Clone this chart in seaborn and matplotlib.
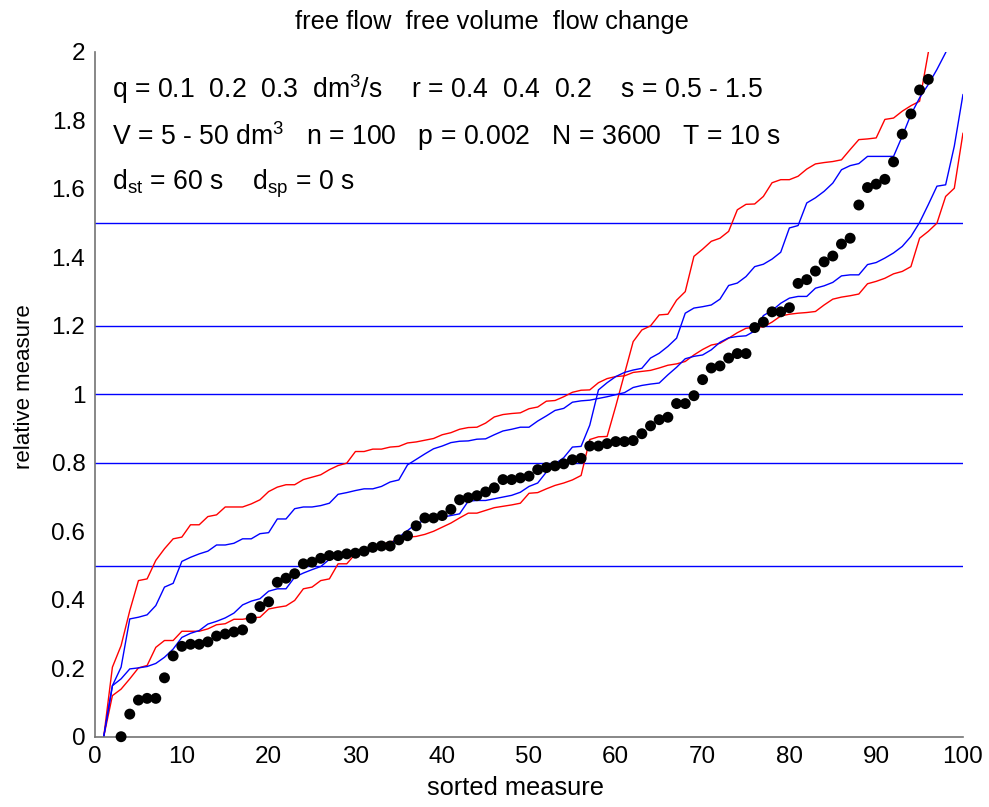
import numpy as np
import pandas as pd
import matplotlib
matplotlib.use("Agg")
import matplotlib.pyplot as plt
import seaborn as sns

# sorted measure (dots) - positions 3..96
dot_x = list(range(3, 97))
dot_y = [0.0, 0.066, 0.107, 0.112, 0.112, 0.172, 0.236, 0.264, 0.270, 0.270,
         0.277, 0.294, 0.300, 0.306, 0.312, 0.346, 0.380, 0.394, 0.451, 0.463,
         0.476, 0.505, 0.510, 0.521, 0.529, 0.529, 0.534, 0.536, 0.542, 0.553,
         0.557, 0.557, 0.575, 0.587, 0.616, 0.639, 0.639, 0.646, 0.664, 0.692,
         0.698, 0.704, 0.715, 0.727, 0.751, 0.751, 0.756, 0.761, 0.780, 0.786,
         0.791, 0.797, 0.809, 0.813, 0.849, 0.849, 0.856, 0.862, 0.862, 0.865,
         0.885, 0.908, 0.926, 0.933, 0.973, 0.973, 0.996, 1.043, 1.077, 1.083,
         1.106, 1.119, 1.119, 1.195, 1.211, 1.241, 1.241, 1.253, 1.324, 1.335,
         1.360, 1.387, 1.404, 1.439, 1.456, 1.553, 1.604, 1.614, 1.628, 1.679,
         1.760, 1.819, 1.889, 1.920]

# envelope curves, positions 1..100
env_x = list(range(1, 101))
upper_red = [0, 0.203, 0.266, 0.368, 0.456, 0.461, 0.515, 0.549, 0.578, 0.583,
             0.619, 0.619, 0.643, 0.648, 0.671, 0.671, 0.671, 0.680, 0.692, 0.716,
             0.729, 0.736, 0.736, 0.751, 0.758, 0.765, 0.780, 0.792, 0.799, 0.833,
             0.833, 0.840, 0.840, 0.846, 0.848, 0.858, 0.861, 0.866, 0.871, 0.882,
             0.888, 0.898, 0.903, 0.904, 0.916, 0.934, 0.941, 0.944, 0.946, 0.958,
             0.963, 0.980, 0.982, 0.993, 1.006, 1.012, 1.013, 1.034, 1.046, 1.052,
             1.054, 1.064, 1.067, 1.070, 1.077, 1.085, 1.089, 1.096, 1.115, 1.131,
             1.144, 1.149, 1.164, 1.180, 1.193, 1.196, 1.197, 1.211, 1.229, 1.234,
             1.237, 1.239, 1.242, 1.261, 1.278, 1.284, 1.288, 1.293, 1.323, 1.330,
             1.339, 1.352, 1.359, 1.373, 1.456, 1.476, 1.500, 1.578, 1.602, 1.763]
upper_blue = [0, 0.149, 0.203, 0.344, 0.349, 0.356, 0.383, 0.437, 0.448, 0.512,
              0.524, 0.534, 0.542, 0.560, 0.560, 0.565, 0.578, 0.578, 0.593, 0.596,
              0.636, 0.636, 0.666, 0.671, 0.671, 0.675, 0.682, 0.708, 0.713, 0.719,
              0.724, 0.724, 0.731, 0.744, 0.750, 0.794, 0.810, 0.826, 0.841, 0.849,
              0.859, 0.863, 0.864, 0.869, 0.870, 0.882, 0.893, 0.898, 0.904, 0.904,
              0.922, 0.937, 0.953, 0.959, 0.977, 0.981, 0.983, 0.988, 0.993, 0.999,
              1.005, 1.020, 1.026, 1.030, 1.033, 1.057, 1.079, 1.104, 1.111, 1.115,
              1.130, 1.152, 1.165, 1.169, 1.171, 1.185, 1.230, 1.245, 1.266, 1.281,
              1.286, 1.286, 1.310, 1.317, 1.327, 1.346, 1.349, 1.349, 1.379, 1.385,
              1.398, 1.413, 1.432, 1.461, 1.502, 1.554, 1.608, 1.612, 1.725, 1.876]
lower_blue = [0, 0.149, 0.169, 0.198, 0.201, 0.205, 0.214, 0.232, 0.256, 0.290,
              0.302, 0.310, 0.329, 0.337, 0.347, 0.361, 0.385, 0.396, 0.403, 0.425,
              0.432, 0.432, 0.466, 0.478, 0.488, 0.497, 0.518, 0.527, 0.536, 0.539,
              0.539, 0.546, 0.555, 0.563, 0.583, 0.602, 0.622, 0.632, 0.636, 0.641,
              0.646, 0.651, 0.688, 0.690, 0.690, 0.695, 0.700, 0.705, 0.714, 0.731,
              0.741, 0.773, 0.797, 0.815, 0.846, 0.848, 0.910, 1.013, 1.034, 1.052,
              1.064, 1.071, 1.076, 1.106, 1.120, 1.140, 1.164, 1.237, 1.252, 1.256,
              1.261, 1.278, 1.318, 1.325, 1.344, 1.373, 1.380, 1.395, 1.415, 1.486,
              1.493, 1.559, 1.574, 1.593, 1.617, 1.656, 1.668, 1.674, 1.695, 1.695,
              1.695, 1.695, 1.754, 1.817, 1.866, 1.905, 1.949, 1.998, 2.06, 2.12]
lower_red = [0, 0.120, 0.139, 0.169, 0.201, 0.208, 0.261, 0.281, 0.281, 0.308,
             0.308, 0.308, 0.315, 0.327, 0.330, 0.343, 0.343, 0.347, 0.349, 0.373,
             0.378, 0.382, 0.398, 0.432, 0.437, 0.456, 0.461, 0.505, 0.505, 0.534,
             0.544, 0.544, 0.561, 0.569, 0.575, 0.583, 0.585, 0.591, 0.600, 0.612,
             0.624, 0.639, 0.653, 0.653, 0.661, 0.669, 0.673, 0.677, 0.682, 0.711,
             0.713, 0.724, 0.734, 0.741, 0.750, 0.763, 0.868, 0.876, 0.877, 0.966,
             1.060, 1.154, 1.188, 1.200, 1.232, 1.234, 1.275, 1.300, 1.403, 1.424,
             1.447, 1.456, 1.476, 1.539, 1.555, 1.556, 1.578, 1.618, 1.627, 1.627,
             1.637, 1.658, 1.673, 1.677, 1.680, 1.685, 1.715, 1.744, 1.746, 1.749,
             1.803, 1.807, 1.827, 1.843, 1.856, 1.998, 2.14, 2.18, 2.22, 2.26]

levels = [0.5, 0.8, 1.0, 1.2, 1.5]

title = "free flow  free volume  flow change"
info_lines = [
    "q = 0.1  0.2  0.3  dm$^3$/s    r = 0.4  0.4  0.2    s = 0.5 - 1.5",
    "V = 5 - 50 dm$^3$   n = 100   p = 0.002   N = 3600   T = 10 s",
    "d$_{st}$ = 60 s    d$_{sp}$ = 0 s",
]
info_y = [1.866, 1.727, 1.598]

sns.set_style("white")
plt.rcParams["font.family"] = ["Liberation Sans", "DejaVu Sans"]
plt.rcParams["mathtext.fontset"] = "custom"
plt.rcParams["mathtext.rm"] = "Liberation Sans"
plt.rcParams["mathtext.it"] = "Liberation Sans"
plt.rcParams["mathtext.default"] = "regular"
plt.rcParams["text.color"] = "black"
plt.rcParams["axes.labelcolor"] = "black"
plt.rcParams["xtick.labelcolor"] = "black"
plt.rcParams["ytick.labelcolor"] = "black"

fig = plt.figure(figsize=(9.89, 8.07), dpi=100)
ax = fig.add_axes([0.0961, 0.0871, 0.8776, 0.8485])

for lv in levels:
    ax.axhline(lv, color="blue", lw=1.0, zorder=1)

sns.lineplot(x=env_x, y=upper_red, color="red", lw=1.0, ax=ax, zorder=2)
sns.lineplot(x=env_x, y=lower_red, color="red", lw=1.0, ax=ax, zorder=2)
sns.lineplot(x=env_x, y=upper_blue, color="blue", lw=1.0, ax=ax, zorder=2)
sns.lineplot(x=env_x, y=lower_blue, color="blue", lw=1.0, ax=ax, zorder=2)
sns.scatterplot(x=dot_x, y=dot_y, color="black", s=62, edgecolor="none",
                ax=ax, zorder=3, clip_on=False)

ax.set_xlim(0, 100)
ax.set_ylim(0, 2)
ax.set_xticks(range(0, 101, 10))
ax.set_yticks(np.arange(0, 2.01, 0.2))
ax.set_yticklabels(["0", "0.2", "0.4", "0.6", "0.8", "1", "1.2", "1.4", "1.6", "1.8", "2"])
ax.tick_params(direction="in", length=7, width=1, color="0.4", labelsize=17.5, pad=7)
for side in ["top", "right"]:
    ax.spines[side].set_visible(False)
for side in ["left", "bottom"]:
    ax.spines[side].set_color("0.45")
    ax.spines[side].set_linewidth(1.2)

ax.set_xlabel("sorted measure", fontsize=18.3)
ax.xaxis.set_label_coords(0.484, -0.058)
ax.set_ylabel("relative measure", fontsize=16)
ax.yaxis.set_label_coords(-0.069, 0.511)
fig.text(0.4975, 1 - 29 / 807, title, ha="center", va="baseline", fontsize=18.3)

for txt, yy in zip(info_lines, info_y):
    ax.text(2.0, yy, txt, fontsize=19.2, ha="left", va="baseline")

fig.savefig("out.png", dpi=100)
